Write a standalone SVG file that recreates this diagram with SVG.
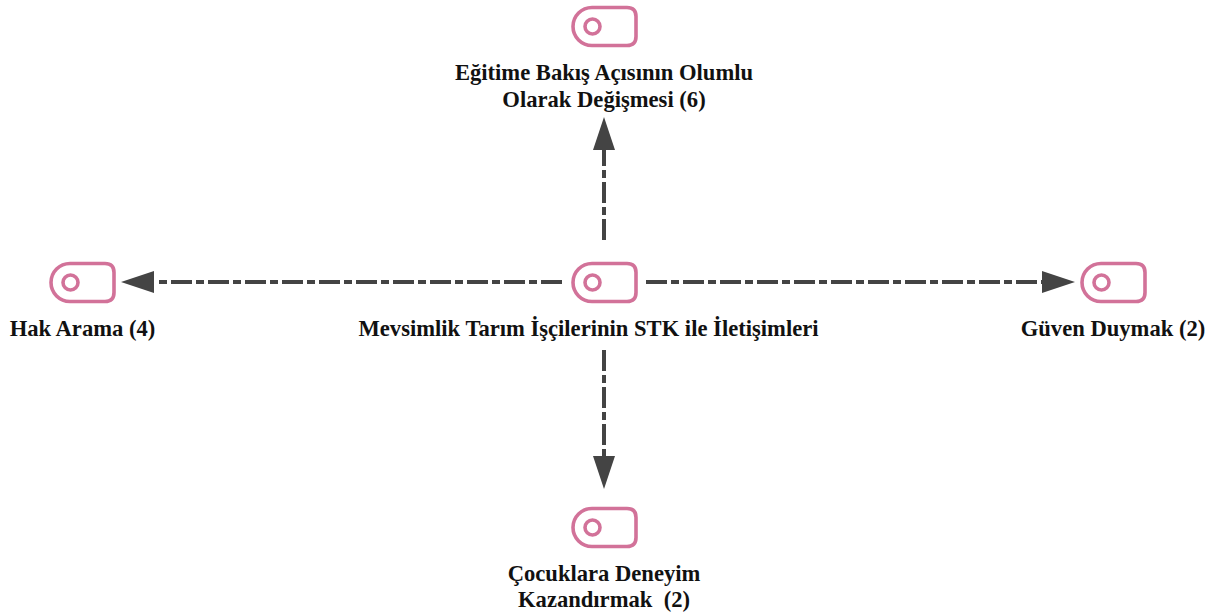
<svg xmlns="http://www.w3.org/2000/svg" width="1222" height="614" viewBox="0 0 1222 614">
<style>
.bg{fill:#fff}
.ic{fill:none;stroke:#d27299;stroke-width:3.6}
.c{fill:none;stroke:#444;stroke-width:4;stroke-dasharray:21 4 8 4}
.h{fill:#444}
text{font-family:"Liberation Serif","Times New Roman",serif;font-weight:700;font-size:22.600px;fill:#111;text-anchor:middle}
</style>
<defs>
<g id="icon"><path class="ic" d="M20 1.5H55Q64 1.5 64 10.500V30.500Q64 39.500 55 39.500H20A19 19 0 0 1 20 1.500Z"/><circle class="ic" cx="20.500" cy="20.500" r="7.500"/></g>
</defs>
<rect class="bg" width="1222" height="614"/>
<g id="connectors">
<path class="c" d="M604 240V150"/><path class="h" d="M604 117L615 150H593Z"/>
<path class="c" d="M562 282H155"/><path class="h" d="M121 282L154 271V293Z"/>
<path class="c" d="M646 282H1042"/><path class="h" d="M1075 282L1042 271V293Z"/>
<path class="c" d="M604 350V456"/><path class="h" d="M604 489L593 456H615Z"/>
</g>
<g id="n-top"><use href="#icon" x="572" y="6"/><text x="604" y="80">Eğitime Bakış Açısının Olumlu</text><text x="604" y="107">Olarak Değişmesi (6)</text></g>
<g id="n-center"><use href="#icon" x="572" y="262"/><text x="588.500" y="336">Mevsimlik Tarım İşçilerinin STK ile İletişimleri</text></g>
<g id="n-left"><use href="#icon" x="50" y="262"/><text x="82.500" y="336">Hak Arama (4)</text></g>
<g id="n-right"><use href="#icon" x="1081" y="262"/><text x="1113" y="336">Güven Duymak (2)</text></g>
<g id="n-bottom"><use href="#icon" x="572" y="507"/><text x="604" y="581">Çocuklara Deneyim</text><text x="604" y="607" xml:space="preserve">Kazandırmak  (2)</text></g>
</svg>
